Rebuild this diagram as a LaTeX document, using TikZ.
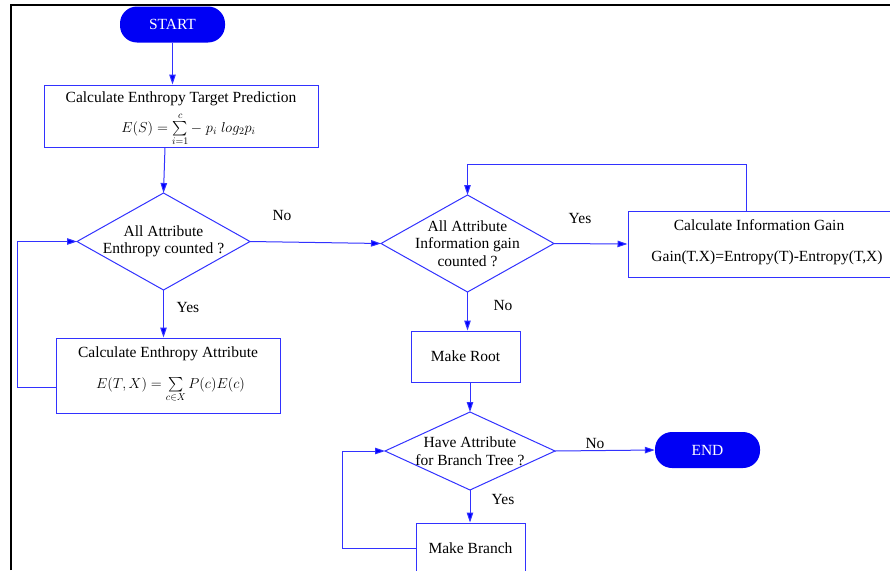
\documentclass[tikz,border=0pt]{standalone}
\usepackage{amsmath}
\usepackage{fontspec}
\setmainfont{Liberation Serif}
\usetikzlibrary{shapes.geometric,arrows.meta,calc}
\definecolor{ln}{RGB}{50,50,255}
\definecolor{pill}{RGB}{0,0,245}
\newcommand{\bigsum}{\mathop{\textstyle\sum}\limits}
\begin{document}
\begin{tikzpicture}[x=1pt,y=-1pt,
  font=\fontsize{15.5}{17.5}\selectfont,
  box/.style={draw=ln,line width=1pt,fill=white,rectangle,inner sep=0pt,align=center},
  dec/.style={draw=ln,line width=1pt,diamond,inner sep=0pt,outer sep=0pt},
  term/.style={fill=pill,rectangle,rounded corners=17pt,inner sep=0pt,text=white,minimum width=105pt,minimum height=36pt},
  txt/.style={inner sep=0pt,align=center},
  frm/.style={inner sep=0pt,anchor=base,font=\fontsize{14.4}{15}\selectfont},
  arr/.style={draw=ln,line width=1pt,-{Triangle[length=10pt,width=6.5pt,fill=blue]}},
  lbl/.style={inner sep=0pt}]
\clip (0,0) rectangle (890,570);
\fill[white] (0,0) rectangle (890,570);
% frame
\draw[line width=2pt,black] (11,570) -- (11,5) -- (892,5);

% nodes
\node[term] (start) at (172.5,24.5) {START};
\node[box,minimum width=274pt,minimum height=62pt] (b1) at (181,116) {};
\node[txt,anchor=base] (b1t) at (181,102) {Calculate Enthropy Target Prediction};
\node[frm] (b1f) at (188.5,132) {$E(S)=\bigsum_{i=1}^{c}-\;p_i\;log_2p_i$};

\node[dec,minimum width=173pt,minimum height=97pt] (d1) at (163.5,241.5) {};
\node[txt] (d1t) at (d1.center) {All Attribute\\Enthropy counted ?};

\node[box,minimum width=224pt,minimum height=75pt] (b2) at (168,375.5) {};
\node[txt,anchor=base] (b2t) at (168,357) {Calculate Enthropy Attribute};
\node[frm] (b2f) at (170.5,388) {$E(T,X)=\bigsum_{c\in X}P(c)E(c)$};

\node[dec,minimum width=173pt,minimum height=97pt] (d2) at (467.5,243.5) {};
\node[txt] (d2t) at (d2.center) {All Attribute\\Information gain\\counted ?};

\node[box,minimum width=270pt,minimum height=66pt] (b3) at (763,244) {};
\node[txt,anchor=base] (b3t) at (759,230) {Calculate Information Gain};
\node[txt,anchor=base] (b3f) at (767,261) {Gain(T.X)=Entropy(T)-Entropy(T,X)};

\node[box,minimum width=109pt,minimum height=51pt] (b4) at (465.5,356.5) {Make Root};

\node[dec,minimum width=170pt,minimum height=78pt] (d3) at (470,451) {};
\node[txt] (d3t) at (d3.center) {Have Attribute\\for Branch Tree ?};

\node[term] (end) at (707.5,450) {END};

\node[box,minimum width=109pt,minimum height=51pt] (b5) at (470.5,548.5) {Make Branch};

% labels
\node[lbl] (lno1) at (282,215) {No};
\node[lbl] (lyes1) at (188,307) {Yes};
\node[lbl] (lyes2) at (580,218) {Yes};
\node[lbl] (lno2) at (503,305) {No};
\node[lbl] (lno3) at (595,443) {No};
\node[lbl] (lyes3) at (503,499) {Yes};

% connectors
\draw[arr] (start.south) -- (start.south |- b1.north);
\draw[arr] ([xshift=-16pt]b1.south) -- (d1.north);
\draw[arr] (d1.south) -- (d1.south |- b2.north);
\draw[arr] ([yshift=-12pt]b2.west) -| ([xshift=-60pt]d1.west) -- (d1.west);
\draw[arr] (d1.east) -- (d2.west);
\draw[arr] (d2.east) -- (b3.west);
\draw[arr] ([xshift=-17pt]b3.north) |- ([yshift=31pt]d2.north) -- (d2.north);
\draw[arr] (d2.south) -- (d2.south |- b4.north);
\draw[arr] ([xshift=4.5pt]b4.south) -- (d3.north);
\draw[arr] (d3.east) -- (end.west);
\draw[arr] (d3.south) -- (d3.south |- b5.north);
\draw[arr] (b5.west) -| ([xshift=-43pt]d3.west) -- (d3.west);
\end{tikzpicture}
\end{document}
